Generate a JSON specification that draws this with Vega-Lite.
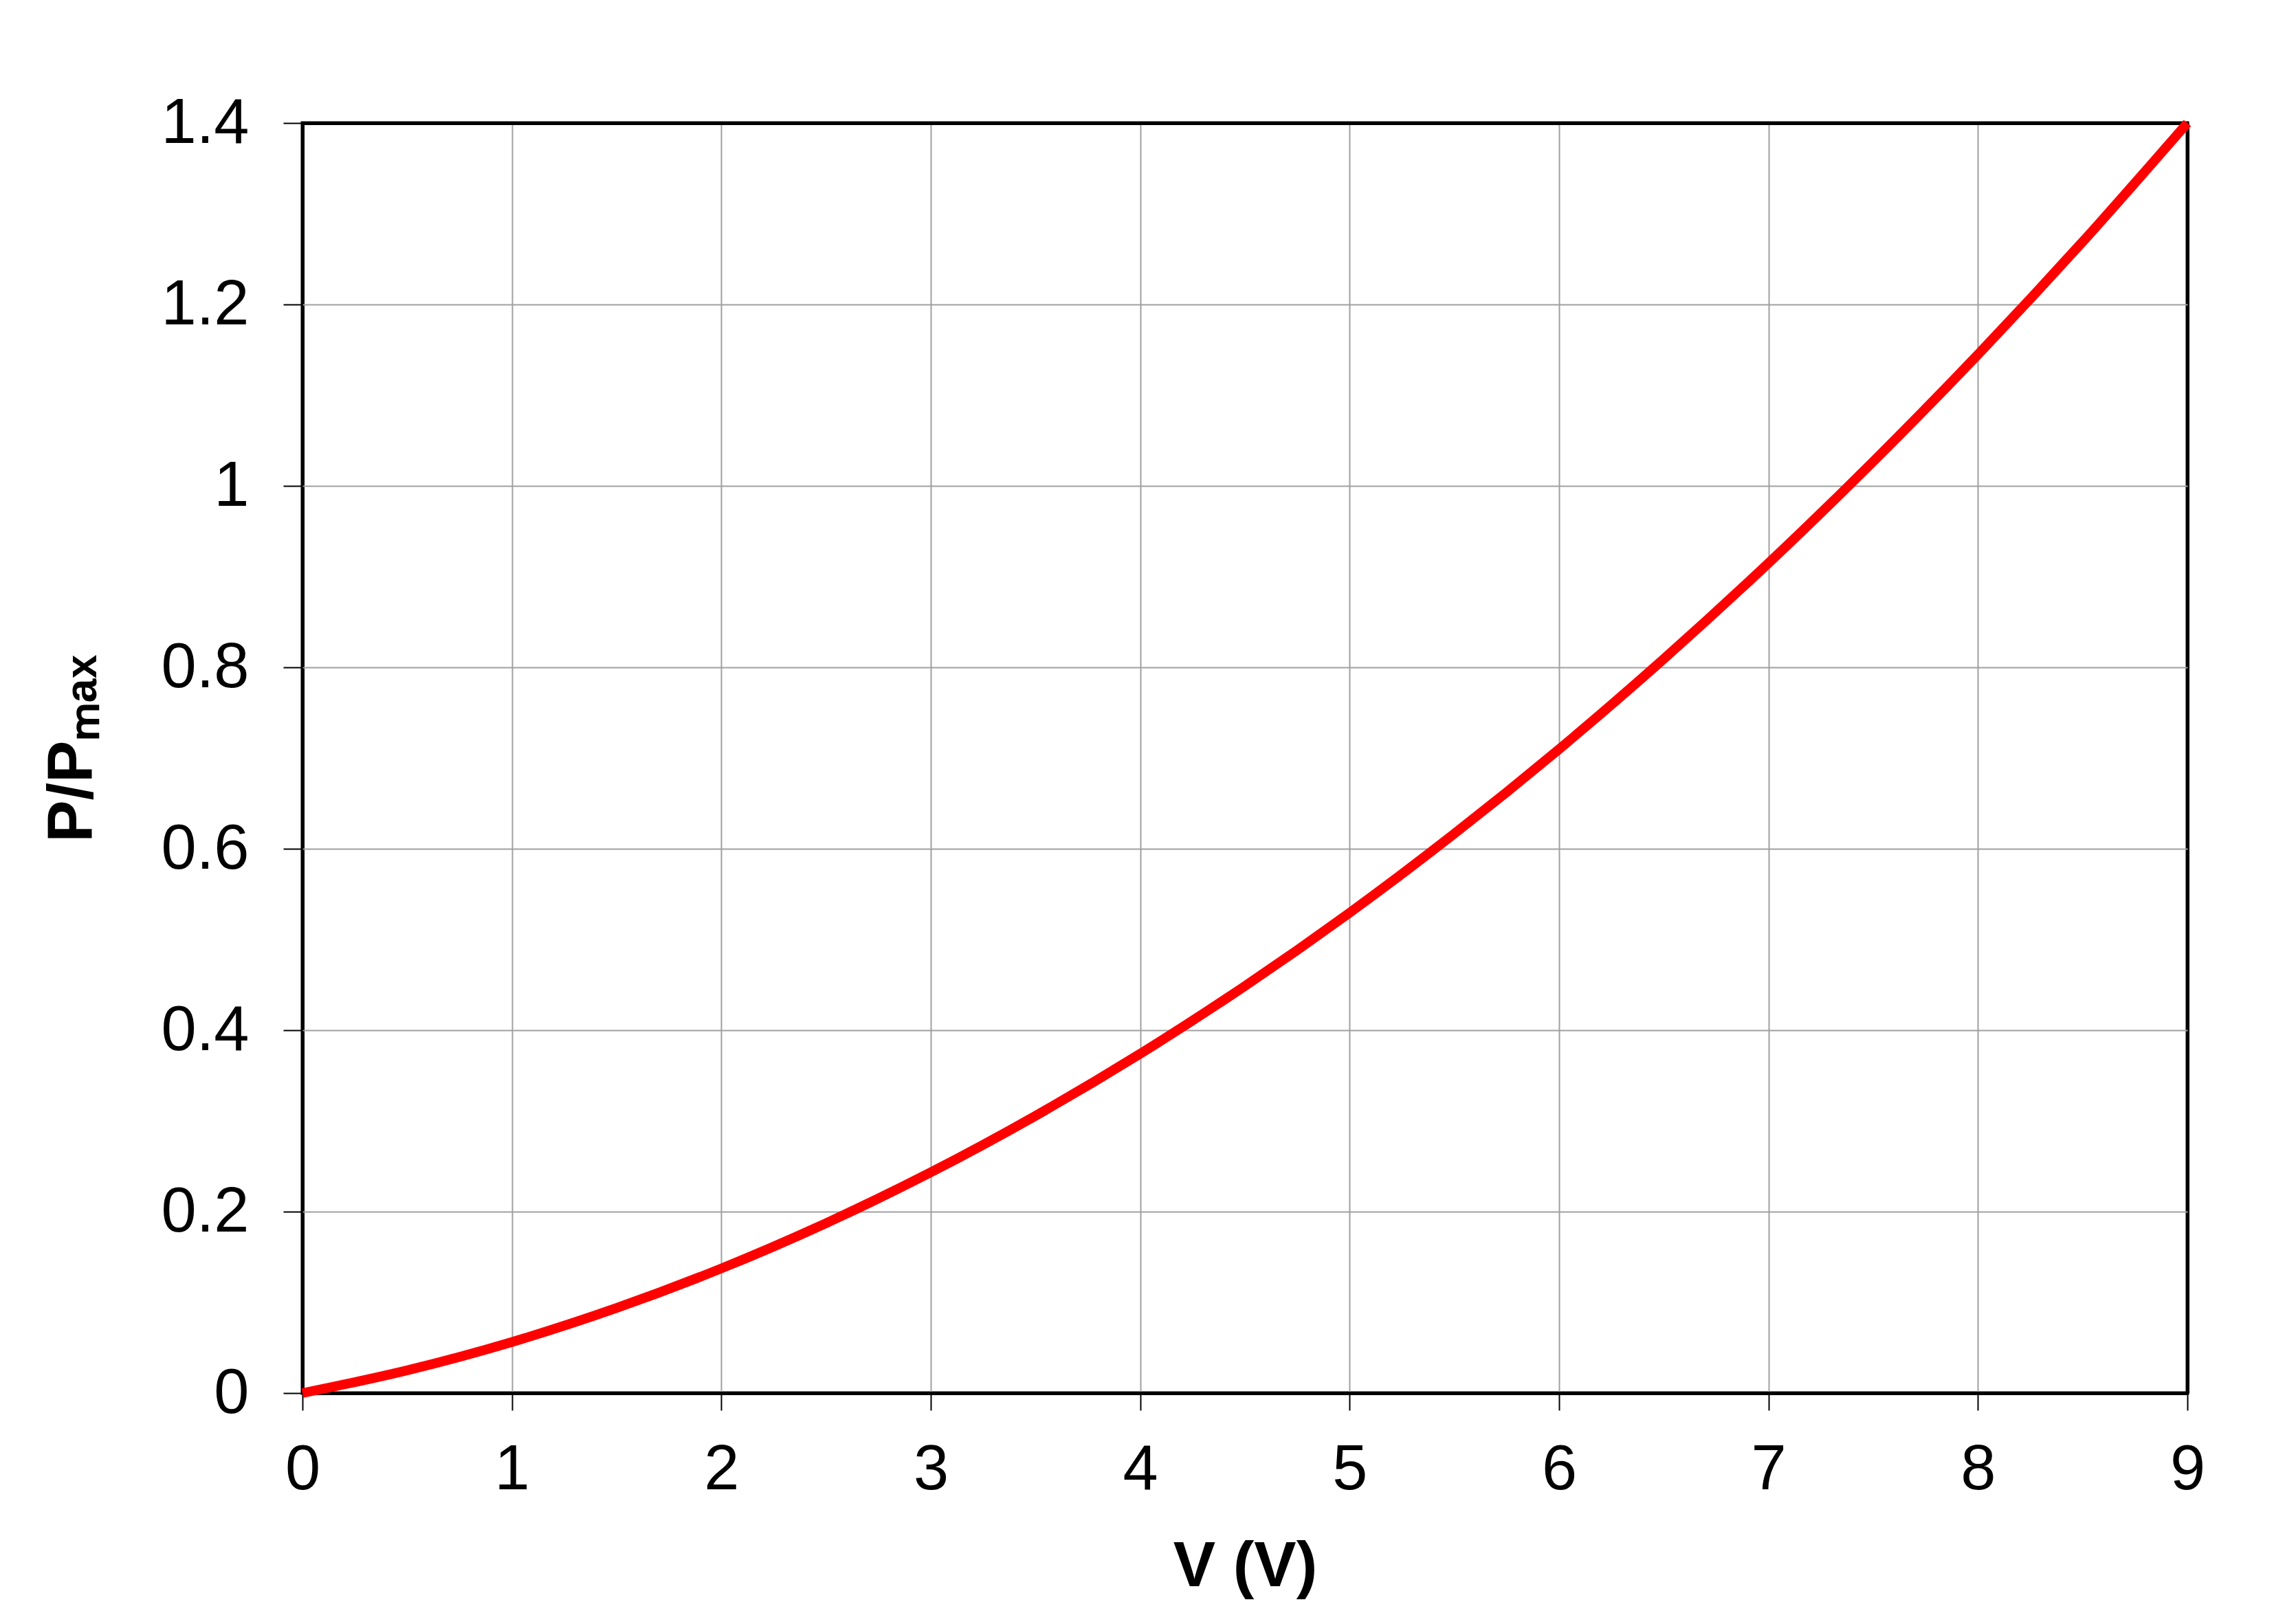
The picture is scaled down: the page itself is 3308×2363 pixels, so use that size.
{
  "$schema": "https://vega.github.io/schema/vega-lite/v6.json",
  "width": 2742,
  "height": 1848,
  "autosize": {"type": "none"},
  "padding": {"left": 440, "top": 179, "right": 126, "bottom": 336},
  "background": "white",
  "data": {
    "values": [
      {"V": 0, "P": 0},
      {"V": 0.5, "P": 0.0251},
      {"V": 1, "P": 0.0563},
      {"V": 1.5, "P": 0.0938},
      {"V": 2, "P": 0.1374},
      {"V": 2.5, "P": 0.1873},
      {"V": 3, "P": 0.2433},
      {"V": 3.5, "P": 0.3056},
      {"V": 4, "P": 0.3740},
      {"V": 4.5, "P": 0.4487},
      {"V": 5, "P": 0.5295},
      {"V": 5.5, "P": 0.6166},
      {"V": 6, "P": 0.7098},
      {"V": 6.5, "P": 0.8093},
      {"V": 7, "P": 0.9149},
      {"V": 7.5, "P": 1.0268},
      {"V": 8, "P": 1.1448},
      {"V": 8.5, "P": 1.2691},
      {"V": 9, "P": 1.4}
    ]
  },
  "mark": {"type": "line", "color": "#ff0000", "strokeWidth": 14, "interpolate": "monotone", "clip": false},
  "encoding": {
    "x": {
      "field": "V",
      "type": "quantitative",
      "scale": {"domain": [0, 9], "nice": false, "zero": false},
      "axis": {
        "values": [0, 1, 2, 3, 4, 5, 6, 7, 8, 9],
        "grid": true,
        "gridColor": {"condition": {"test": "datum.value == 0 || datum.value == 9", "value": "#000000"}, "value": "#a0a0a0"},
        "gridWidth": {"condition": {"test": "datum.value == 0 || datum.value == 9", "value": 5}, "value": 2},
        "domain": false,
        "ticks": true,
        "tickColor": "#000000",
        "tickSize": 25,
        "tickWidth": 2,
        "labelFont": "Liberation Sans",
        "labelFontSize": 92,
        "labelColor": "#000000",
        "labelPadding": 41,
        "labelFlush": false,
        "labelOverlap": false,
        "title": "V (V)",
        "titleFont": "Liberation Sans",
        "titleFontSize": 92,
        "titleFontWeight": "bold",
        "titleColor": "#000000",
        "titleBaseline": "alphabetic",
        "titleY": 280
      }
    },
    "y": {
      "field": "P",
      "type": "quantitative",
      "scale": {"domain": [0, 1.4], "nice": false},
      "axis": {
        "values": [0, 0.2, 0.4, 0.6, 0.8, 1, 1.2, 1.4],
        "format": ".1~f",
        "grid": true,
        "gridColor": {"condition": {"test": "datum.value == 0 || datum.value == 1.4", "value": "#000000"}, "value": "#a0a0a0"},
        "gridWidth": {"condition": {"test": "datum.value == 0 || datum.value == 1.4", "value": 5}, "value": 2},
        "domain": false,
        "ticks": true,
        "tickColor": "#000000",
        "tickSize": 28,
        "tickWidth": 2,
        "labelFont": "Liberation Sans",
        "labelFontSize": 92,
        "labelColor": "#000000",
        "labelPadding": 50,
        "labelFlush": false,
        "labelOverlap": false,
        "title": "P/Pₘₐₓ",
        "titleFont": "Liberation Sans",
        "titleFontSize": 92,
        "titleFontWeight": "bold",
        "titleColor": "#000000",
        "titleAngle": -90,
        "titleBaseline": "alphabetic",
        "titleAlign": "center",
        "titleX": -307,
        "titleY": 910
      }
    }
  },
  "config": {
    "view": {"stroke": "#000000", "strokeWidth": 5}
  }
}
